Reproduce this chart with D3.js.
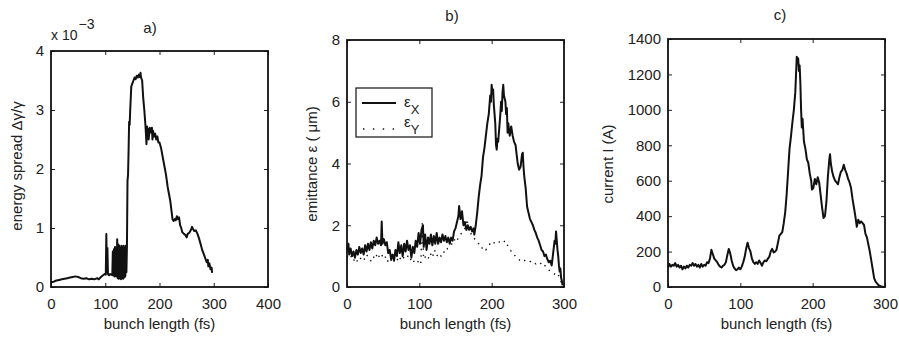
<!DOCTYPE html>
<html><head><meta charset="utf-8">
<script src="https://cdn.jsdelivr.net/npm/d3@7"></script>
<style>body{margin:0;background:#fff} text{font-family:"Liberation Sans",Arial,Helvetica,sans-serif;fill:#222}</style>
</head><body><svg id="chart" width="899" height="337"></svg>
<script>
// ---- data ----
// a) energy spread (units of 1e-3) vs bunch length (fs)
const spreadPts = [[0,0.08],[5,0.09],[10,0.11],[15,0.12],[20,0.13],[25,0.14],[30,0.15],[35,0.16],[40,0.17],[45,0.18],[50,0.17],[55,0.15],[60,0.14],[65,0.15],[70,0.13],[75,0.14],[80,0.13],[85,0.15],[88,0.13],[92,0.17],[96,0.2],[99,0.22],[101,0.21],[102,0.9],[103,0.25],[104,0.66],[105,0.22],[107,0.2],[109,0.22],[111,0.21],[113,0.2],[114,0.6],[115,0.2],[116,0.64],[117,0.18],[118,0.68],[119,0.2],[120,0.18],[121,0.2],[122,0.81],[123,0.15],[124,0.72],[125,0.14],[126,0.7],[127,0.15],[128,0.65],[129,0.13],[130,0.7],[131,0.15],[132,0.68],[133,0.14],[134,0.7],[135,0.16],[136,0.65],[137,0.18],[138,0.7],[139,0.25],[140,0.7],[141,1.8],[142,1.9],[143,2.3],[144,2.8],[145,2.75],[146,3.0],[147,3.2],[148,3.4],[150,3.45],[152,3.5],[154,3.55],[156,3.52],[158,3.58],[160,3.55],[162,3.6],[164,3.56],[165,3.63],[166,3.55],[168,3.5],[170,3.2],[172,3.0],[174,2.75],[175,2.6],[176,2.42],[177,2.72],[178,2.55],[179,2.68],[180,2.5],[182,2.7],[184,2.62],[186,2.7],[187,2.5],[188,2.65],[190,2.55],[192,2.6],[194,2.5],[196,2.55],[198,2.45],[200,2.45],[203,2.35],[206,2.2],[209,2.05],[212,1.9],[215,1.7],[218,1.55],[220,1.45],[222,1.3],[224,1.15],[226,1.12],[228,1.15],[230,1.13],[232,1.2],[234,1.15],[236,1.18],[238,1.05],[240,1.0],[242,0.93],[245,0.9],[248,0.88],[250,0.84],[252,0.9],[255,0.92],[258,0.97],[260,1.02],[262,0.98],[264,0.95],[267,0.96],[270,0.9],[273,0.82],[276,0.72],[279,0.62],[282,0.55],[285,0.47],[287,0.42],[289,0.46],[290,0.35],[292,0.4],[294,0.3],[296,0.33],[297,0.24]];
const spreadXTicks = [0,100,200,300,400];
const spreadYTicks = [0,1,2,3,4];

// b) emittance (um) vs bunch length (fs)
const emitXPts = [[0,1.2],[2,1.4],[3,1.05],[5,1.25],[7,1.0],[9,1.15],[11,0.95],[13,1.2],[15,1.05],[17,1.3],[19,1.1],[21,1.25],[23,1.05],[25,1.35],[27,1.15],[29,1.4],[31,1.2],[33,1.45],[35,1.25],[37,1.5],[39,1.35],[41,1.6],[43,1.4],[45,1.5],[47,1.35],[48,2.12],[49,1.4],[51,1.55],[53,1.35],[55,1.45],[57,1.1],[59,1.2],[61,0.9],[63,1.05],[65,0.85],[67,1.2],[69,1.0],[71,1.45],[73,1.1],[75,1.35],[77,1.0],[79,1.4],[81,1.15],[83,1.5],[85,1.2],[87,1.35],[89,0.95],[91,1.3],[93,1.1],[95,1.5],[97,1.3],[99,1.75],[101,1.4],[103,1.85],[105,2.0],[106,1.3],[108,1.7],[110,1.2],[112,1.6],[114,1.4],[116,1.7],[118,1.35],[120,1.65],[122,1.4],[124,1.75],[126,1.4],[128,1.6],[130,1.45],[132,1.7],[134,1.5],[136,1.65],[138,1.45],[140,1.6],[142,1.4],[144,1.6],[146,1.5],[148,1.8],[150,1.9],[152,2.1],[154,2.3],[155,2.62],[157,2.2],[159,2.45],[161,2.0],[163,2.1],[165,1.85],[167,2.0],[169,1.85],[171,1.95],[173,1.8],[175,1.9],[176,1.7],[178,2.0],[180,2.4],[182,2.9],[184,3.3],[186,3.6],[188,4.2],[190,4.5],[192,4.9],[194,5.3],[196,5.6],[198,6.2],[199,6.0],[200,6.55],[201,6.3],[202,6.4],[203,5.9],[205,5.3],[206,4.6],[207,4.45],[208,4.8],[209,4.7],[210,5.0],[212,5.6],[213,6.0],[214,5.7],[215,6.3],[216,6.55],[217,6.2],[219,6.0],[220,5.6],[221,5.8],[222,5.0],[223,5.3],[225,4.9],[227,5.2],[229,4.9],[231,4.7],[233,4.6],[235,4.2],[236,4.0],[238,3.8],[240,3.9],[242,4.3],[243,4.35],[244,3.9],[245,3.6],[247,3.2],[249,2.6],[251,2.4],[253,2.2],[255,2.1],[257,2.0],[259,1.85],[261,1.75],[263,1.6],[265,1.5],[267,1.35],[269,1.2],[271,1.15],[273,1.0],[275,1.05],[277,0.9],[279,0.8],[281,0.85],[283,0.7],[285,1.1],[287,1.5],[288,1.4],[289,1.8],[290,1.5],[291,1.2],[292,1.0],[293,0.7],[294,0.5],[295,0.6],[296,0.3],[297,0.2],[298,0.05]];
const emitYPts = [[0,1.0],[3,0.9],[6,1.0],[9,0.85],[12,0.95],[15,0.8],[18,0.9],[21,1.0],[24,0.9],[27,1.05],[30,0.95],[33,0.85],[36,1.0],[39,0.9],[42,1.1],[45,0.95],[48,1.05],[51,0.9],[54,1.0],[57,0.8],[60,0.9],[63,0.8],[66,0.95],[69,0.85],[72,1.0],[75,0.85],[78,0.95],[81,0.9],[84,1.0],[87,0.85],[90,0.95],[93,0.8],[96,0.75],[99,0.85],[102,0.75],[104,2.05],[106,0.9],[109,1.0],[112,0.9],[115,1.1],[118,0.95],[121,1.2],[124,1.0],[127,1.1],[130,1.0],[133,1.15],[136,1.1],[139,1.25],[142,1.3],[145,1.4],[148,1.55],[151,1.45],[154,1.6],[157,1.7],[160,1.8],[163,1.9],[166,2.2],[168,1.8],[171,1.75],[174,1.6],[177,1.55],[180,1.5],[183,1.35],[186,1.25],[189,1.3],[192,1.2],[195,1.35],[198,1.4],[201,1.35],[204,1.45],[207,1.4],[210,1.45],[213,1.5],[216,1.45],[219,1.5],[222,1.35],[225,1.25],[228,1.1],[231,1.05],[234,0.95],[237,0.9],[240,0.85],[243,0.9],[246,0.85],[249,0.8],[252,0.8],[255,0.85],[258,0.8],[261,0.75],[264,0.8],[267,0.75],[270,0.8],[273,0.7],[276,0.65],[279,0.55],[282,0.5],[285,0.45],[288,0.4],[291,0.45],[294,0.3],[297,0.1]];
const emitXTicks = [0,100,200,300];
const emitYTicks = [0,2,4,6,8];

// c) current (A) vs bunch length (fs)
const currentPts = [[0,110],[2,130],[4,115],[6,125],[8,120],[10,135],[12,115],[14,125],[16,110],[18,120],[20,100],[22,115],[24,105],[26,120],[28,110],[30,125],[32,120],[34,135],[36,120],[38,130],[40,115],[42,125],[44,110],[46,130],[48,115],[50,125],[52,120],[54,140],[56,135],[58,160],[60,210],[62,185],[64,160],[66,150],[68,140],[70,125],[72,115],[74,110],[76,120],[78,125],[80,140],[82,180],[84,215],[86,190],[88,150],[90,120],[92,105],[94,95],[96,100],[98,110],[100,100],[102,115],[104,140],[106,170],[108,215],[110,250],[112,220],[114,200],[116,160],[118,140],[120,130],[122,140],[124,130],[126,150],[128,135],[130,120],[132,140],[134,150],[136,145],[138,160],[140,170],[142,200],[144,215],[146,195],[148,200],[150,210],[152,250],[154,290],[156,300],[158,310],[160,360],[162,420],[164,520],[166,650],[168,780],[170,850],[172,930],[174,1000],[176,1100],[177,1200],[178,1300],[179,1280],[180,1290],[181,1220],[182,1250],[183,1150],[184,1000],[185,900],[186,950],[188,820],[190,780],[192,720],[194,700],[196,640],[198,600],[199,550],[201,560],[203,610],[205,580],[207,620],[209,590],[211,520],[213,450],[215,390],[217,400],[219,480],[221,620],[223,720],[224,750],[225,700],[227,650],[229,620],[231,600],[233,590],[235,580],[237,620],[239,650],[241,660],[243,690],[245,660],[247,640],[249,610],[251,590],[253,560],[255,500],[257,450],[259,400],[261,340],[263,380],[265,360],[267,370],[269,360],[271,350],[273,300],[275,280],[277,240],[279,200],[281,150],[283,100],[285,50],[287,30],[289,20],[291,10],[294,5],[298,0]];
const currXTicks = [0,100,200,300];
const currYTicks = [0,200,400,600,800,1000,1200,1400];

// ---- drawing ----
const svg = d3.select('#chart');
const FS = 15;

function panel(o) {
  const x = d3.scaleLinear().domain(o.xd).range([o.x0, o.x1]);
  const y = d3.scaleLinear().domain(o.yd).range([o.y1, o.y0]);
  const g = svg.append('g');
  const fmt = d3.format('d');
  const style = sel => {
    sel.select('.domain').remove();
    sel.selectAll('.tick line').attr('stroke', '#222').attr('stroke-width', 1);
    sel.selectAll('.tick text').style('font-size', FS + 'px').attr('fill', '#222');
  };
  g.append('g').attr('transform', `translate(0,${o.y1})`)
    .call(d3.axisBottom(x).tickValues(o.xt).tickSize(-4).tickPadding(11).tickFormat(fmt)).call(style);
  g.append('g').attr('transform', `translate(${o.x0},0)`)
    .call(d3.axisLeft(y).tickValues(o.yt).tickSize(-4).tickPadding(7).tickFormat(fmt)).call(style);
  g.append('g').attr('transform', `translate(0,${o.y0})`)
    .call(d3.axisTop(x).tickValues(o.xt).tickSize(-4).tickFormat('')).call(style);
  g.append('g').attr('transform', `translate(${o.x1},0)`)
    .call(d3.axisRight(y).tickValues(o.yt).tickSize(-4).tickFormat('')).call(style);
  g.append('rect').attr('x', o.x0).attr('y', o.y0).attr('width', o.x1 - o.x0).attr('height', o.y1 - o.y0)
    .attr('fill', 'none').attr('stroke', '#111').attr('stroke-width', 1.8);
  const line = d3.line().x(d => x(d[0])).y(d => y(d[1]));
  o.series.forEach(s => {
    g.append('path').datum(s.data).attr('d', line).attr('fill', 'none')
      .attr('stroke', '#111').attr('stroke-width', s.dotted ? 1.4 : 2)
      .attr('stroke-linejoin', 'round')
      .attr('stroke-dasharray', s.dotted ? '1.4,5' : null);
  });
  g.append('text').attr('x', (o.x0 + o.x1) / 2).attr('y', 329).attr('text-anchor', 'middle')
    .style('font-size', FS + 'px').text('bunch length (fs)');
  g.append('text').attr('transform', `translate(${o.ylx},${o.ylc}) rotate(-90)`).attr('text-anchor', 'middle')
    .style('font-size', FS + 'px').text(o.ylabel);
  g.append('text').attr('x', o.tx).attr('y', o.ty).attr('text-anchor', 'middle')
    .style('font-size', FS + 'px').text(o.title);
  return {x, y, g};
}

panel({x0: 51, x1: 268, y0: 51, y1: 287, xd: [0, 400], yd: [0, 4], xt: spreadXTicks, yt: spreadYTicks,
  series: [{data: spreadPts}], ylabel: 'energy spread Δγ/γ', ylx: 22, ylc: 166, title: 'a)', tx: 150, ty: 33});

// exponent label
const ex = svg.append('text').attr('x', 51).attr('y', 40).style('font-size', '14px');
ex.append('tspan').text('x 10');
ex.append('tspan').attr('dy', -11).attr('dx', 1).style('font-size', '14px').text('\u22123');

const pb = panel({x0: 347, x1: 564, y0: 40, y1: 287, xd: [0, 300], yd: [0, 8], xt: emitXTicks, yt: emitYTicks,
  series: [{data: emitXPts}, {data: emitYPts, dotted: true}], ylabel: 'emittance ε ( μm)', ylx: 317, ylc: 164, title: 'b)', tx: 452, ty: 21});

// legend
const lg = pb.g.append('g');
lg.append('rect').attr('x', 356).attr('y', 88).attr('width', 76).attr('height', 49)
  .attr('fill', '#fff').attr('stroke', '#111').attr('stroke-width', 1.2);
lg.append('line').attr('x1', 362).attr('x2', 396).attr('y1', 103).attr('y2', 103).attr('stroke', '#111').attr('stroke-width', 2);
lg.append('line').attr('x1', 363).attr('x2', 396).attr('y1', 129).attr('y2', 129).attr('stroke', '#111').attr('stroke-width', 1.4).attr('stroke-dasharray', '1.4,8.5');
const l1 = lg.append('text').attr('x', 404).attr('y', 107).style('font-size', FS + 'px');
l1.append('tspan').text('ε'); l1.append('tspan').attr('dy', 7).style('font-size', '13px').text('X');
const l2 = lg.append('text').attr('x', 404).attr('y', 127).style('font-size', FS + 'px');
l2.append('tspan').text('ε'); l2.append('tspan').attr('dy', 7).style('font-size', '13px').text('Y');

panel({x0: 668, x1: 885, y0: 39, y1: 287, xd: [0, 300], yd: [0, 1400], xt: currXTicks, yt: currYTicks,
  series: [{data: currentPts}], ylabel: 'current I (A)', ylx: 613, ylc: 164, title: 'c)', tx: 780, ty: 20});
</script></body></html>
